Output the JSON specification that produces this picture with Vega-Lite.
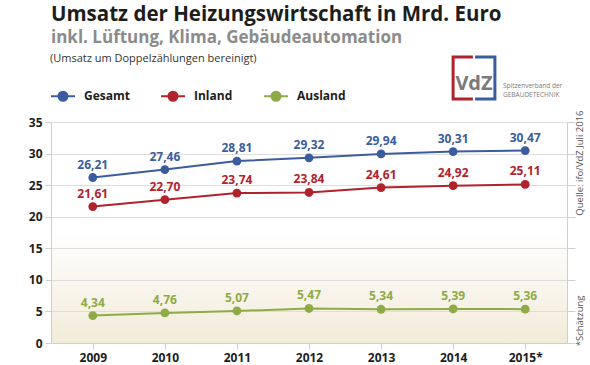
{
  "$schema": "https://vega.github.io/schema/vega-lite/v6.json",
  "width": 516,
  "height": 221,
  "autosize": {"type": "none"},
  "padding": {"left": 51, "top": 122, "right": 23, "bottom": 22},
  "background": "white",
  "title": {
    "text": "Umsatz der Heizungswirtschaft in Mrd. Euro",
    "subtitle": "inkl. Lüftung, Klima, Gebäudeautomation",
    "anchor": "start",
    "frame": "group",
    "font": "Open Sans",
    "fontSize": 20.5,
    "fontWeight": "bold",
    "color": "#1d1d1b",
    "subtitleFont": "Open Sans",
    "subtitleFontSize": 17,
    "subtitleFontWeight": "bold",
    "subtitleColor": "#8b8b8b",
    "subtitlePadding": 5,
    "offset": 5
  },
  "config": {
    "view": {
      "stroke": null,
      "fill": {
        "gradient": "linear",
        "x1": 0, "y1": 0, "x2": 0, "y2": 1,
        "stops": [
          {"offset": 0, "color": "#ffffff"},
          {"offset": 0.5, "color": "#ffffff"},
          {"offset": 1, "color": "#f2ebd9"}
        ]
      }
    },
    "font": "Open Sans",
    "axis": {
      "labelFont": "Open Sans",
      "labelFontWeight": "bold",
      "labelFontSize": 12,
      "labelColor": "#1d1d1b",
      "gridColor": "#dedede",
      "domainColor": "#cfcfcf",
      "tickColor": "#cfcfcf",
      "tickSize": 6,
      "labelPadding": 3,
      "title": null
    }
  },
  "datasets": {
    "umsatz": [
      {"jahr": "2009", "reihe": "Gesamt", "wert": 26.21, "label": "26,21"},
      {"jahr": "2010", "reihe": "Gesamt", "wert": 27.46, "label": "27,46"},
      {"jahr": "2011", "reihe": "Gesamt", "wert": 28.81, "label": "28,81"},
      {"jahr": "2012", "reihe": "Gesamt", "wert": 29.32, "label": "29,32"},
      {"jahr": "2013", "reihe": "Gesamt", "wert": 29.94, "label": "29,94"},
      {"jahr": "2014", "reihe": "Gesamt", "wert": 30.31, "label": "30,31"},
      {"jahr": "2015*", "reihe": "Gesamt", "wert": 30.47, "label": "30,47"},
      {"jahr": "2009", "reihe": "Inland", "wert": 21.61, "label": "21,61"},
      {"jahr": "2010", "reihe": "Inland", "wert": 22.70, "label": "22,70"},
      {"jahr": "2011", "reihe": "Inland", "wert": 23.74, "label": "23,74"},
      {"jahr": "2012", "reihe": "Inland", "wert": 23.84, "label": "23,84"},
      {"jahr": "2013", "reihe": "Inland", "wert": 24.61, "label": "24,61"},
      {"jahr": "2014", "reihe": "Inland", "wert": 24.92, "label": "24,92"},
      {"jahr": "2015*", "reihe": "Inland", "wert": 25.11, "label": "25,11"},
      {"jahr": "2009", "reihe": "Ausland", "wert": 4.34, "label": "4,34"},
      {"jahr": "2010", "reihe": "Ausland", "wert": 4.76, "label": "4,76"},
      {"jahr": "2011", "reihe": "Ausland", "wert": 5.07, "label": "5,07"},
      {"jahr": "2012", "reihe": "Ausland", "wert": 5.47, "label": "5,47"},
      {"jahr": "2013", "reihe": "Ausland", "wert": 5.34, "label": "5,34"},
      {"jahr": "2014", "reihe": "Ausland", "wert": 5.39, "label": "5,39"},
      {"jahr": "2015*", "reihe": "Ausland", "wert": 5.36, "label": "5,36"}
    ]
  },
  "resolve": {"axis": {"y": "independent"}},
  "layer": [
    {
      "data": {"name": "umsatz"},
      "mark": {"type": "line", "strokeWidth": 2},
      "encoding": {
        "x": {
          "field": "jahr", "type": "ordinal",
          "scale": {"type": "point", "padding": 0.58},
          "axis": {"labelAngle": 0, "grid": false, "domain": true}
        },
        "y": {
          "field": "wert", "type": "quantitative",
          "scale": {"domain": [0, 35]},
          "axis": {"values": [0, 5, 10, 15, 20, 25, 30, 35], "grid": true, "domain": true, "tickSize": 6}
        },
        "color": {
          "field": "reihe", "type": "nominal",
          "scale": {"domain": ["Gesamt", "Inland", "Ausland"], "range": ["#3b5d9d", "#b0232d", "#8fab48"]},
          "legend": {
            "orient": "none",
            "direction": "horizontal",
            "legendX": -1,
            "legendY": -39,
            "title": null,
            "symbolType": "M-1,0H1M0.38,0A0.38,0.38,0,1,1,-0.38,0A0.38,0.38,0,1,1,0.38,0Z",
            "symbolSize": 576,
            "symbolStrokeWidth": 2,
            "labelFont": "Open Sans",
            "labelFontSize": 12,
            "labelFontWeight": "bold",
            "labelColor": "#1d1d1b",
            "labelOffset": 8,
            "columnPadding": 27,
            "encode": {
              "symbols": {
                "update": {
                  "fill": {"scale": "color", "field": "value"},
                  "stroke": {"scale": "color", "field": "value"},
                  "strokeWidth": {"value": 2},
                  "opacity": {"value": 1}
                }
              }
            }
          }
        }
      }
    },
    {
      "data": {"name": "umsatz"},
      "mark": {"type": "point", "filled": true, "size": 78, "opacity": 1},
      "encoding": {
        "x": {"field": "jahr", "type": "ordinal"},
        "y": {"field": "wert", "type": "quantitative", "axis": null},
        "color": {"field": "reihe", "type": "nominal"}
      }
    },
    {
      "data": {"name": "umsatz"},
      "mark": {"type": "text", "dy": -9, "baseline": "alphabetic", "fontSize": 12, "fontWeight": "bold", "font": "Open Sans"},
      "encoding": {
        "x": {"field": "jahr", "type": "ordinal"},
        "y": {"field": "wert", "type": "quantitative", "axis": null},
        "text": {"field": "label"},
        "color": {"field": "reihe", "type": "nominal"}
      }
    },
    {
      "data": {"values": [{"t": "Quelle: ifo/VdZ Juli 2016"}]},
      "mark": {"type": "text", "angle": 270, "align": "center", "baseline": "middle", "fontSize": 9.5, "color": "#555555", "font": "Open Sans"},
      "encoding": {
        "x": {"value": {"expr": "width + 13"}},
        "y": {"datum": 28.5, "type": "quantitative", "axis": {"orient": "right", "labels": false, "grid": false, "domain": true, "ticks": true, "tickSize": 8, "values": [0, 5, 10, 15, 20, 25, 30, 35]}},
        "text": {"field": "t"}
      }
    },
    {
      "data": {"values": [{"t": "*Schätzung"}]},
      "mark": {"type": "text", "angle": 270, "align": "center", "baseline": "middle", "fontSize": 9.5, "color": "#555555", "font": "Open Sans"},
      "encoding": {
        "x": {"value": {"expr": "width + 13"}},
        "y": {"datum": 3.5, "type": "quantitative", "axis": null},
        "text": {"field": "t"}
      }
    },
    {
      "data": {"values": [{"t": "(Umsatz um Doppelzählungen bereinigt)"}]},
      "mark": {"type": "text", "align": "left", "baseline": "alphabetic", "fontSize": 11, "color": "#333333", "font": "Open Sans"},
      "encoding": {
        "x": {"value": -1},
        "y": {"value": -60},
        "text": {"field": "t"}
      }
    },
    {
      "data": {"values": [{"part": "links"}, {"part": "rechts"}]},
      "mark": {"type": "point", "filled": false, "size": 1936, "strokeWidth": 3, "opacity": 1},
      "encoding": {
        "x": {"value": 423},
        "y": {"value": -44},
        "shape": {
          "field": "part", "type": "nominal", "legend": null,
          "scale": {"domain": ["links", "rechts"], "range": ["M-0.05,-0.95H-0.95V0.95H-0.05", "M0.05,-0.95H0.95V0.95H0.05"]}
        },
        "stroke": {
          "field": "part", "type": "nominal", "legend": null,
          "scale": {"domain": ["links", "rechts"], "range": ["#b0232d", "#3b5d9d"]}
        }
      }
    },
    {
      "data": {"values": [{"t": "VdZ"}]},
      "mark": {"type": "text", "align": "center", "baseline": "alphabetic", "fontSize": 20, "fontWeight": "bold", "color": "#7a7a7a", "font": "Open Sans"},
      "encoding": {
        "x": {"value": 423},
        "y": {"value": -32},
        "text": {"field": "t"}
      }
    },
    {
      "data": {"values": [{"t": "Spitzenverband der"}]},
      "mark": {"type": "text", "align": "left", "baseline": "alphabetic", "fontSize": 6.5, "color": "#7a7a7a", "font": "Open Sans"},
      "encoding": {
        "x": {"value": 452},
        "y": {"value": -34},
        "text": {"field": "t"}
      }
    },
    {
      "data": {"values": [{"t": "GEBÄUDETECHNIK"}]},
      "mark": {"type": "text", "align": "left", "baseline": "alphabetic", "fontSize": 6.5, "color": "#7a7a7a", "font": "Open Sans", "letterSpacing": 0.3},
      "encoding": {
        "x": {"value": 452},
        "y": {"value": -25},
        "text": {"field": "t"}
      }
    }
  ]
}
